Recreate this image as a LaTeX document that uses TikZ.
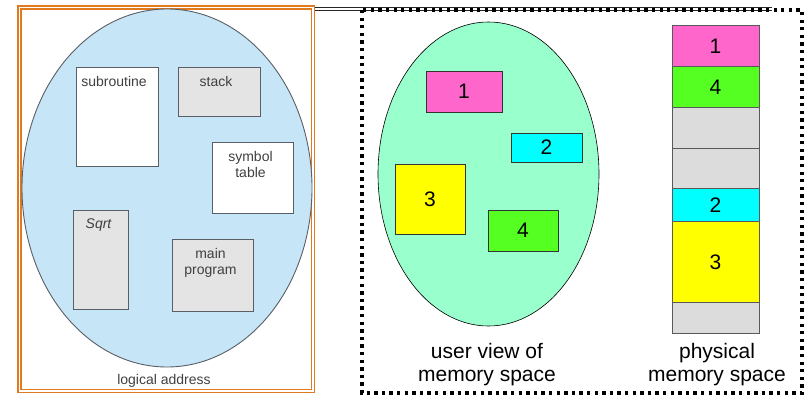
\documentclass[tikz,border=0pt]{standalone}
\usepackage{fontspec}
\setmainfont{Liberation Sans}
\usetikzlibrary{matrix,shapes.geometric}

\definecolor{frameorange}{HTML}{E07A1F}
\definecolor{logblue}{HTML}{C6E6F8}
\definecolor{loggray}{HTML}{E4E4E4}
\definecolor{logline}{HTML}{5A5F66}
\definecolor{usergreen}{HTML}{99FFCC}
\definecolor{segpink}{HTML}{FF66CC}
\definecolor{seggreen}{HTML}{55FF22}
\definecolor{segcyan}{HTML}{00FFFF}
\definecolor{segyellow}{HTML}{FFFF00}
\definecolor{freegray}{HTML}{DCDCDC}

\tikzset{
  lbox/.style={draw=logline, line width=0.9pt, inner sep=0pt, outer sep=0pt},
  ltxt/.style={anchor=north, inner sep=0pt, yshift=-9pt, align=center,
               text=black!75, font=\fontsize{14}{16}\selectfont},
  useg/.style={draw=black!80, line width=0.8pt, inner sep=0pt,
               font=\fontsize{21}{24}\selectfont},
  pseg/.style={draw=black!65, line width=1pt, inner sep=0pt, outer sep=0pt,
               minimum width=87, font=\fontsize{21}{24}\selectfont},
  caption/.style={align=center, inner sep=0pt, font=\fontsize{21}{23}\selectfont}
}

\begin{document}
\begin{tikzpicture}[x=1pt, y=-1pt]
\useasboundingbox (0,0) rectangle (808,396);

% logical address picture
\coordinate (frameNE) at (313,9);
\coordinate (rule) at (772,9);
\draw[black!85, double, line width=1pt, double distance=1.6pt] (frameNE) -- (rule);
\draw[frameorange, double, line width=1.5pt, double distance=1.4pt]
  (19.5,7.5) rectangle (313,391);

\node[ellipse, draw=logline, line width=0.9pt, fill=logblue, inner sep=0pt,
      minimum width=290, minimum height=358] (logical) at (167,188) {};

\node[lbox, fill=white,   minimum width=82, minimum height=99] (subr)  at (117,116.5) {};
\node[lbox, fill=loggray, minimum width=82, minimum height=49] (stack) at (219,91.5) {};
\node[lbox, fill=white,   minimum width=81, minimum height=71] (symtab) at (252.5,177.5) {};
\node[lbox, fill=loggray, minimum width=55, minimum height=99] (sqrt)  at (100.5,259.5) {};
\node[lbox, fill=loggray, minimum width=81, minimum height=72] (mainprog) at (212.5,275) {};

\node[ltxt, xshift=-3pt] at (subr.north)  {subroutine};
\node[ltxt, xshift=-3pt] at (stack.north) {stack};
\node[ltxt, xshift=-2pt] at (symtab.north) {symbol\\table};
\node[ltxt, xshift=-2pt] at (sqrt.north)  {\itshape Sqrt};
\node[ltxt, xshift=-2pt] at (mainprog.north) {main\\program};
\node[text=black!75, font=\fontsize{14}{16}\selectfont, inner sep=0pt]
  (logaddr) at (164,381) {logical address};

% user view and physical memory
\draw[line width=3.2pt, dash pattern=on 3.3pt off 4.3pt] (362,10) rectangle (802,393);

\node[ellipse, draw=black, line width=0.6pt, fill=usergreen, inner sep=0pt,
      minimum width=221, minimum height=304] (userview) at (488.5,174) {};

\node[useg, fill=segpink,   minimum width=76, minimum height=41] (u1) at (464,91.5) {1};
\node[useg, fill=segcyan,   minimum width=71, minimum height=29] (u2) at (546.5,147.5) {2};
\node[useg, fill=segyellow, minimum width=70, minimum height=70] (u3) at (430,199) {3};
\node[useg, fill=seggreen,  minimum width=70, minimum height=41] (u4) at (523,230.5) {4};

\matrix (phys) [matrix of nodes, nodes={pseg}, row sep=-1pt,
                anchor=north, inner sep=0pt] at (715.5,25)
{
|[fill=segpink,   minimum height=41]| 1 \\
|[fill=seggreen,  minimum height=41]| 4 \\
|[fill=freegray,  minimum height=41]| {} \\
|[fill=freegray,  minimum height=40]| {} \\
|[fill=segcyan,   minimum height=33]| 2 \\
|[fill=segyellow, minimum height=81]| 3 \\
|[fill=freegray,  minimum height=31]| {} \\
};

\node[caption] (usercap) at (487,365) {user view of\\memory space};
\node[caption] (physcap) at (717,365) {physical\\memory space};

\end{tikzpicture}
\end{document}
